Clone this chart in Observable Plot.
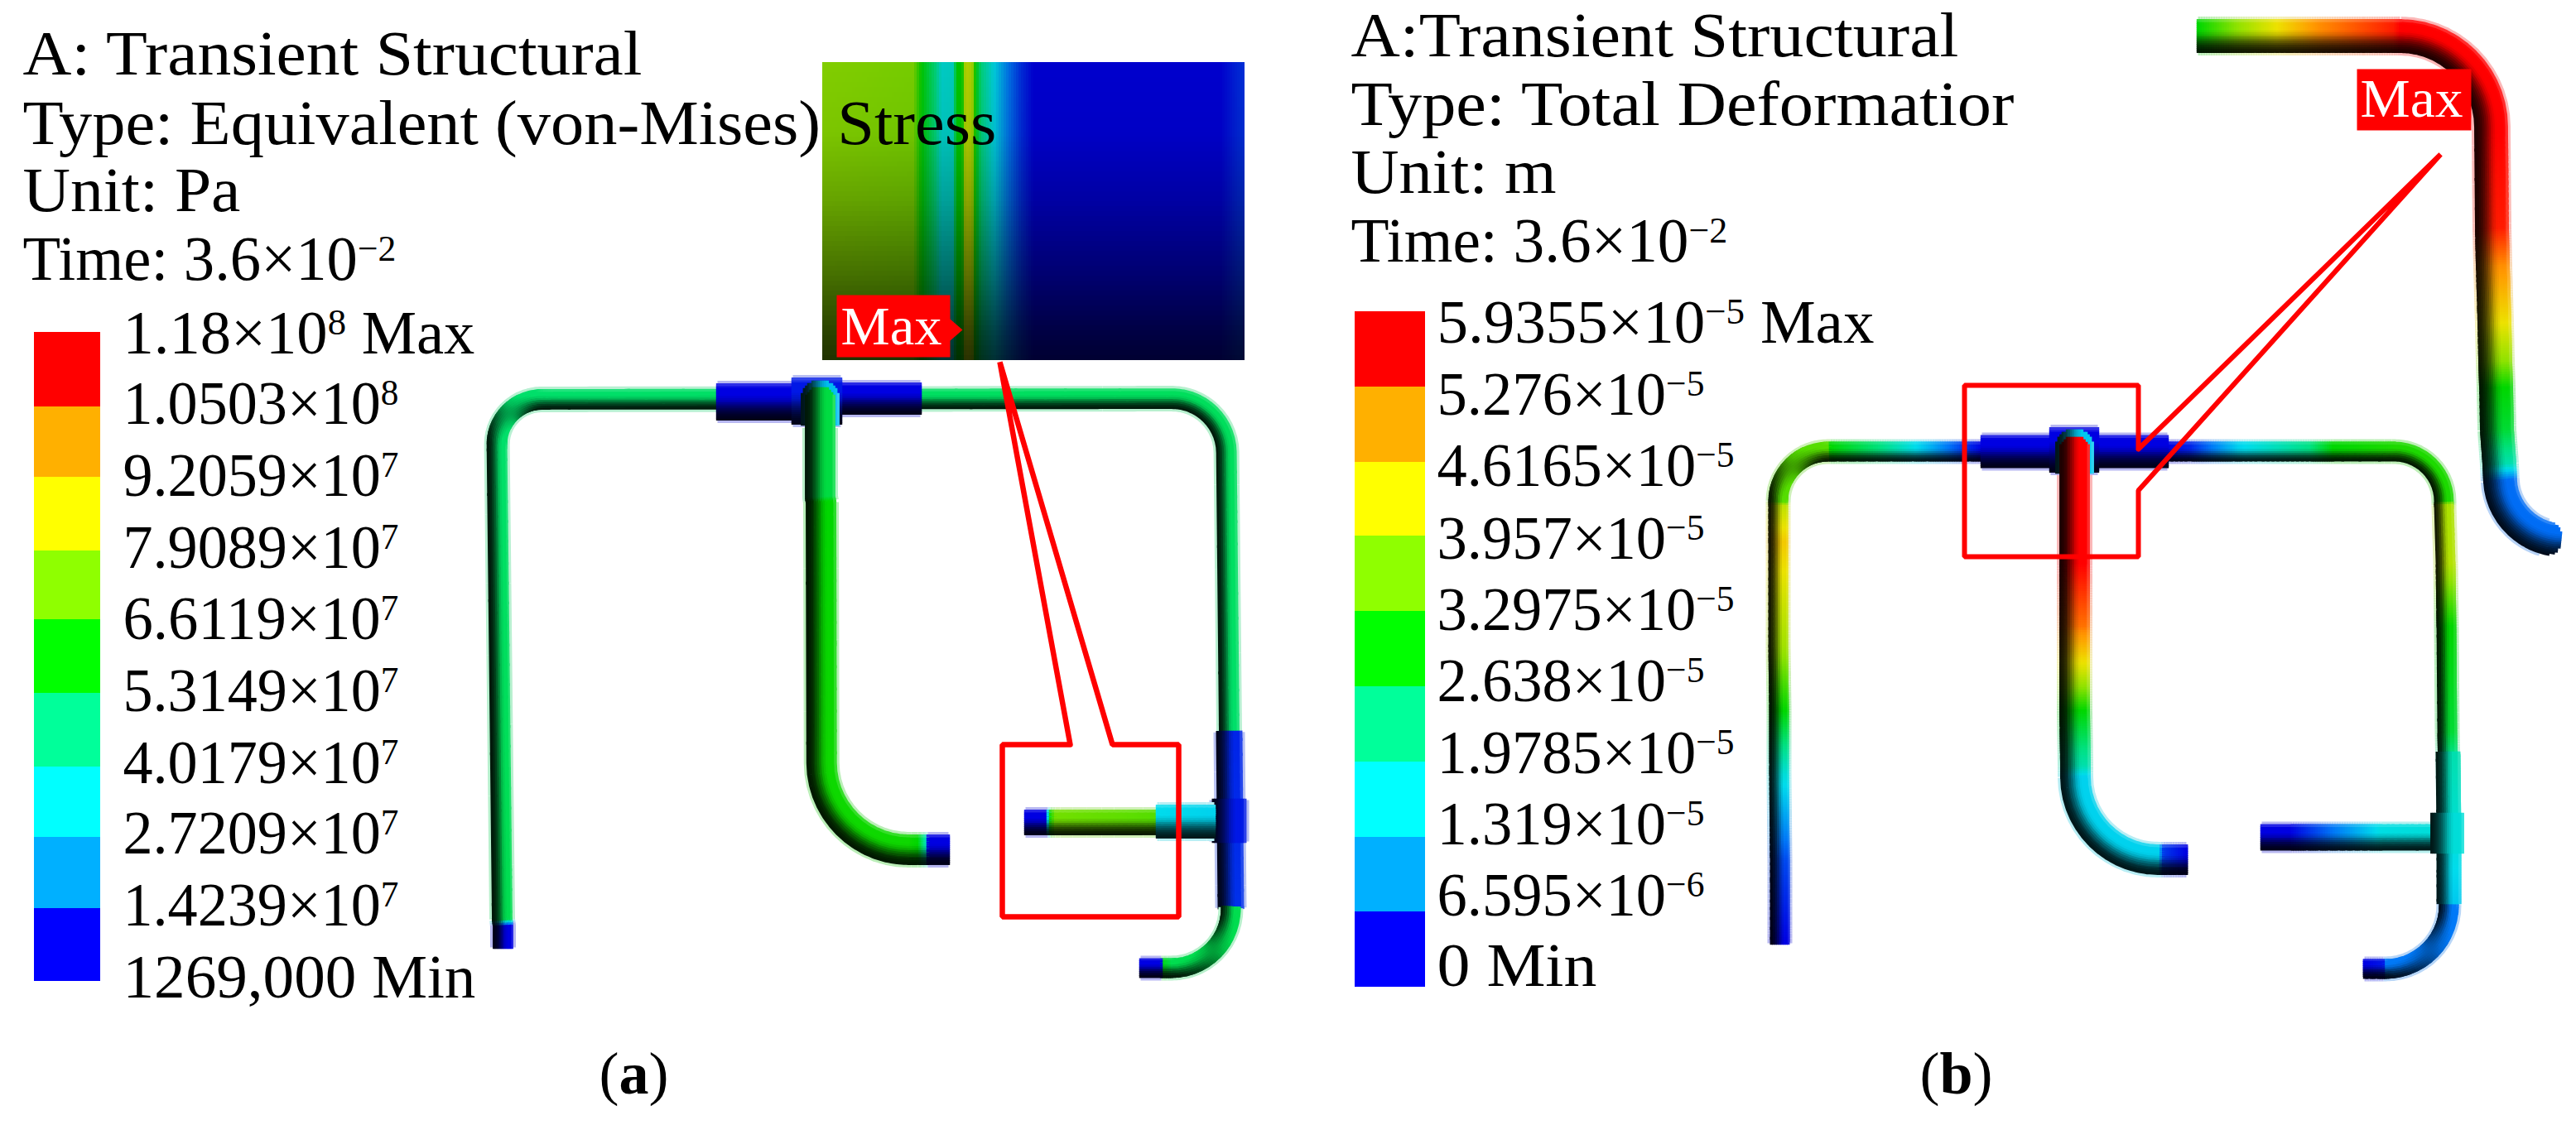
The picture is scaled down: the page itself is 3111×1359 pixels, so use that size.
<!DOCTYPE html>
<html><head><meta charset="utf-8">
<script src="https://cdn.jsdelivr.net/npm/d3@7"></script>
<script src="https://cdn.jsdelivr.net/npm/@observablehq/plot@0.6"></script>
<style>html,body{margin:0;padding:0;background:#fff;overflow:hidden}svg{display:block}</style>
</head><body><div id="chart"></div>
<script>
// ---------- text ----------
const headerA = ["A: Transient Structural","Type: Equivalent (von-Mises) Stress","Unit: Pa","Time: 3.6×10^−2"];
const headerAy = [89,173,254,337];
const headerAend = [775,1203,290,478];
const headerB = ["A:Transient Structural","Type: Total Deformatior","Unit: m","Time: 3.6×10^−2"];
const headerBy = [67,150,232,315];
const headerBend = [2365,2432,1879,2086];
const labelsA = ["1.18×10^8 Max","1.0503×10^8","9.2059×10^7","7.9089×10^7","6.6119×10^7","5.3149×10^7","4.0179×10^7","2.7209×10^7","1.4239×10^7","1269,000 Min"];
const labelsAy = [426,511,598,685,771,858,945,1030,1117,1204];
const labelsAend = [573,481,481,481,481,481,481,481,481,574];
const labelsB = ["5.9355×10^−5 Max","5.276×10^−5","4.6165×10^−5","3.957×10^−5","3.2975×10^−5","2.638×10^−5","1.9785×10^−5","1.319×10^−5","6.595×10^−6","0 Min"];
const labelsBy = [413,500,586,674,760,846,933,1019,1105,1190];
const labelsBend = [2263,2058,2094,2058,2094,2058,2094,2058,2058,1928];
// ---------- legend bands ----------
const bandColors = ["#ff0000","#ffb000","#ffff00","#8fff00","#00ff00","#00ff9a","#00ffff","#00b0ff","#0000ff"];
const bandEdgesA = [401,491,576,665,748,837,926,1011,1097,1185];
const bandEdgesB = [376,467,558,647,738,829,920,1011,1101,1192];
// contour level (0 = blue ... 8 = red) to colour on the pipes
const levelRGB = [[0,0,205],[0,110,225],[0,200,215],[0,205,120],[0,195,0],[130,205,0],[215,205,0],[235,130,0],[240,0,0]];
// ---------- pipes: [x, y, corner radius, level] ----------
const pipesA = [
 {w:24,p:[[607,1144,0,0],[607,1118,0,0],[606,1110,0,3.4],[599,482,55,3.2],[1480,481,65,3.3],[1484,884,0,3.2]]},
 {w:44,p:[[866,485,0,0],[957,485,0,0]]},
 {w:38,p:[[1015,481,0,0],[1111,481,0,0]]},
 {w:56,p:[[957,484,0,.2],[1015,484,0,.2]]},
 {w:46,capStart:true,halo:false,p:[[990,458,0,1.7],[990,512,0,1.7]]},
 {w:31,p:[[1484,884,0,.3],[1486,1096,0,.4]]},
 {w:23,p:[[1486,1096,0,3.2],[1487,1169,75,3.4],[1404,1169,0,3.8],[1402,1169,0,0],[1377,1169,0,0]]},
 {w:41,p:[[1484,966,0,.2],[1484,1016,0,.2]]},
 {w:30,p:[[1238,993,0,0],[1262,993,0,0],[1268,993,0,4.2],[1274,993,0,4.8],[1395,993,0,4.6],[1398,993,0,2]]},
 {w:40,p:[[1397,992,0,2],[1466,992,0,1.9]]},
 {w:36,capStart:true,haloSkip:50,p:[[990,466,0,3.5],[990,600,0,3.5],[991,606,0,4],[992,1026,105,4.1],[1108,1026,0,4],[1118,1026,0,2.5],[1120,1026,0,0],[1145,1026,0,0]]}
];
const pipesB = [
 {w:23,p:[[2149,1139,0,0],[2149,1040,0,.6],[2148,935,0,2.2],[2148,858,0,4],[2147,780,0,5.2],[2147,654,0,6.3],[2147,610,0,5.5],[2147,545,60,4.6],[2210,545,0,4],[2272,545,0,3],[2330,545,0,1.6],[2370,545,0,.5],[2393,545,0,0],[2617,545,0,0],[2645,545,0,.3],[2703,545,0,1.9],[2789,545,0,3],[2817,545,0,4],[2951,545,60,4.2],[2951,610,0,5.3],[2953,680,0,5.4],[2954,756,0,4],[2955,884,0,3.6],[2956,935,0,2.4],[2957,1011,0,2.2],[2957,1088,0,1.8],[2958,1170,78,1],[2878,1170,0,.2],[2855,1170,0,0]]},
 {w:29,halo:false,p:[[2956,909,0,2.6],[2957,1011,0,2.2],[2957,1090,0,1.8]]},
 {w:39,p:[[2393,545,0,0],[2617,545,0,0]]},
 {w:54,p:[[2476,543,0,0],[2533,543,0,0]]},
 {w:46,capStart:true,halo:false,p:[[2505,517,0,1.8],[2505,570,0,1.8]]},
 {w:36,capStart:true,haloSkip:46,p:[[2505,526,0,8],[2505,680,0,8],[2505,756,0,7.2],[2505,807,0,5.8],[2505,858,0,4],[2506,925,0,2.6],[2506,1038,100,1.9],[2612,1038,0,.5],[2640,1038,0,0]]},
 {w:31,p:[[2731,1011,0,0],[2765,1011,0,0],[2818,1011,0,1],[2875,1011,0,2.1],[2945,1011,0,2.2]]},
 {w:40,halo:false,p:[[2955,983,0,2.2],[2955,1029,0,2.2]]},
 {w:40,capEnd:true,p:[[2654,43,0,4],[2729,43,0,5.6],[2800,43,0,7],[2890,43,0,7.8],[3008,43,110,8],[3008,160,0,8],[3009,275,0,7.8],[3010,321,0,7],[3012,390,0,6],[3013,436,0,5],[3014,468,0,4],[3015,519,0,3.6],[3018,560,0,2.6],[3022,652,76,.9],[3094,652,0,0]]}
];
// ---------- stress inset ----------
const insetX = [993,1103,1113,1130,1137,1151,1155,1162,1166,1174,1178,1185,1199,1218,1233,1248,1474,1493,1501];
const insetLevel = [5,4.9,4,3,2.2,2.3,4,4,5.6,5.4,4,3,2.1,1,.4,0,0,.3,.4];
const insetRowY = [75,160,240,330,400,432];
const insetRowBright = [1,.96,.8,.55,.33,.25];
// ---------- callouts ----------
const calloutAx = [1292,1210,1210,1423,1423,1343,1207,1292];
const calloutAy = [899,899,1107,1107,899,899,437,899];
const calloutBx = [2582,2582,2372,2372,2582,2582,2947,2582];
const calloutBy = [542,465,465,672,672,592,186,542];
const maxTagAx = [1010,1147,1147,1162,1147,1147,1010];
const maxTagAy = [356,356,385,398,411,431,431];
const maxTagBx = [2846,2984,2984,2846];
const maxTagBy = [83,83,157,157];

// ---------- helpers ----------
const lerp=(a,b,t)=>a+(b-a)*t;
function rgbOf(l){const i=Math.max(0,Math.min(7,Math.floor(l))),t=Math.max(0,Math.min(1,l-i));return levelRGB[i].map((c,k)=>lerp(c,levelRGB[i+1][k],t));}
function css(c){return `rgb(${c.map(v=>Math.round(Math.max(0,Math.min(255,v)))).join(",")})`;}
function toWhite(c,t){return c.map(v=>lerp(v,255,t));}
function shade(c,e){
  const b = e<.1 ? lerp(.12,.92,Math.pow((e+1)/1.1,1.8)) : lerp(.92,1.1,Math.min(1,(e-.1)/.3));
  let o=c.map(v=>v*b);
  if(e>.8) o=toWhite(o,(e-.8)/.2*.25);
  return o;
}
function expand(pts){
  const out=[];
  pts.forEach((q,i)=>{
    const [x,y,r,l]=q;
    if(r>0&&i>0&&i<pts.length-1){
      const a=pts[i-1],b=pts[i+1];
      const d1=Math.hypot(x-a[0],y-a[1]),d2=Math.hypot(b[0]-x,b[1]-y);
      const u1=[(x-a[0])/d1,(y-a[1])/d1],u2=[(b[0]-x)/d2,(b[1]-y)/d2];
      const d=Math.min(r,d1,d2);
      const A=[x-u1[0]*d,y-u1[1]*d],B=[x+u2[0]*d,y+u2[1]*d];
      const C1=[A[0]+u1[0]*d*.55,A[1]+u1[1]*d*.55],C2=[B[0]-u2[0]*d*.55,B[1]-u2[1]*d*.55];
      for(let k=0;k<=14;k++){const t=k/14,s=1-t;
        out.push([s*s*s*A[0]+3*s*s*t*C1[0]+3*s*t*t*C2[0]+t*t*t*B[0],s*s*s*A[1]+3*s*s*t*C1[1]+3*s*t*t*C2[1]+t*t*t*B[1],l]);}
    } else out.push([x,y,l]);
  });
  const dense=[];
  for(let i=0;i<out.length-1;i++){
    const a=out[i],b=out[i+1],n=Math.max(1,Math.ceil(Math.hypot(b[0]-a[0],b[1]-a[1])/3));
    for(let k=0;k<n;k++){const t=k/n;dense.push([lerp(a[0],b[0],t),lerp(a[1],b[1],t),lerp(a[2],b[2],t)]);}
  }
  dense.push(out[out.length-1]);
  return dense;
}
function pipeMarks(pipe){
  const d=expand(pipe.p),N=Math.max(8,Math.round(pipe.w/2.5)),rows=[],halo=[];
  const along=[0];
  for(let i=1;i<d.length;i++) along.push(along[i-1]+Math.hypot(d[i][0]-d[i-1][0],d[i][1]-d[i-1][1]));
  const total=along[along.length-1],R=pipe.w/2;
  d.forEach((q,i)=>{
    const a=d[Math.max(0,i-4)],b=d[Math.min(d.length-1,i+4)];
    let tx=b[0]-a[0],ty=b[1]-a[1];const m=Math.hypot(tx,ty)||1;tx/=m;ty/=m;
    // normal on the path's left side, and how far it faces the light (upper right)
    const nx=ty,ny=-tx,f=Math.max(-1,Math.min(1,(nx-ny)));
    const base=rgbOf(q[2]);
    const haloStart=pipe.haloSkip||(pipe.capStart?R:0);
    if(pipe.halo!==false&&along[i]>=haloStart&&!(pipe.capEnd&&total-along[i]<R)) halo.push({x:q[0],y:q[1],k:0,c:css(toWhite(base,.72))});
    for(let j=0;j<N;j++){
      const s=(j+.5)/N-.5;
      // rounded pipe ends: the outer stripes start later
      const inset=R*(1-Math.sqrt(Math.max(0,1-4*s*s)));
      if(pipe.capStart&&along[i]<inset) continue;
      if(pipe.capEnd&&total-along[i]<inset) continue;
      rows.push({x:q[0]+nx*s*pipe.w,y:q[1]+ny*s*pipe.w,k:j,c:css(shade(base,2*s*f))});
    }
  });
  const common={x:"x",y:"y",z:"k",stroke:"c"};
  return [
    ...(halo.length?[Plot.line(halo,{...common,strokeLinecap:"butt",strokeWidth:pipe.w+7})]:[]),
    Plot.line(rows,{...common,strokeLinecap:"square",strokeWidth:pipe.w/N+.9})
  ];
}
function interp(xs,ys,x){const i=Math.max(0,Math.min(xs.length-2,d3.bisectRight(xs,x)-1));return lerp(ys[i],ys[i+1],(x-xs[i])/(xs[i+1]-xs[i]));}
const insetCells=[];
for(let x=insetX[0];x<insetX[insetX.length-1];x+=3){
  for(let y=insetRowY[0];y<insetRowY[insetRowY.length-1];y+=6){
    const c=rgbOf(interp(insetX,insetLevel,x+1.5)).map(v=>v*interp(insetRowY,insetRowBright,y+3));
    insetCells.push({x1:x,x2:x+3,y1:y,y2:y+6,c:css(c)});
  }
}
const bands=(edges,x1,x2)=>bandColors.map((c,i)=>({x1,x2,y1:edges[i],y2:edges[i+1],c}));
const textRows=(ts,ys,x)=>ts.map((t,i)=>({t,x,y:ys[i]}));
const txt=(rows,fs,extra={})=>Plot.text(rows,{x:"x",y:"y",text:"t",textAnchor:"start",lineAnchor:"bottom",fontSize:fs,fontFamily:"Liberation Serif",fill:"black",...extra});
const poly=(xs,ys)=>xs.map((x,i)=>({x,y:ys[i]}));

const fits=[[1015,1137],[2850,2974],
  ...headerA.map((t,i)=>[27,headerAend[i]]),...headerB.map((t,i)=>[1631,headerBend[i]]),
  ...labelsA.map((t,i)=>[148,labelsAend[i]]),...labelsB.map((t,i)=>[1735,labelsBend[i]]),null,null];

const svg=Plot.plot({
  width:3111,height:1359,margin:0,
  style:{background:"#fff",maxWidth:"none"},
  x:{domain:[0,3111],range:[0,3111],axis:null},
  y:{domain:[0,1359],range:[0,1359],axis:null},
  color:{type:"identity"},
  marks:[
    ...pipesA.flatMap(pipeMarks),
    ...pipesB.flatMap(pipeMarks),
    Plot.rect(insetCells,{x1:"x1",x2:"x2",y1:"y1",y2:"y2",fill:"c",shapeRendering:"crispEdges"}),
    Plot.rect(bands(bandEdgesA,41,121),{x1:"x1",x2:"x2",y1:"y1",y2:"y2",fill:"c"}),
    Plot.rect(bands(bandEdgesB,1636,1721),{x1:"x1",x2:"x2",y1:"y1",y2:"y2",fill:"c"}),
    Plot.line(poly(calloutAx,calloutAy),{x:"x",y:"y",stroke:"#f00",strokeWidth:6.5,strokeLinejoin:"miter"}),
    Plot.line(poly(calloutBx,calloutBy),{x:"x",y:"y",stroke:"#f00",strokeWidth:6,strokeLinejoin:"miter"}),
    Plot.line(poly(maxTagAx,maxTagAy),{x:"x",y:"y",fill:"#f00",stroke:"none"}),
    Plot.line(poly(maxTagBx,maxTagBy),{x:"x",y:"y",fill:"#f00",stroke:"none"}),
    txt(textRows(["Max"],[415],1015),66,{fill:"white"}),
    txt(textRows(["Max"],[140],2850),66,{fill:"white"}),
    txt(textRows(headerA,headerAy,27),77),
    txt(textRows(headerB,headerBy,1631),77),
    txt(textRows(labelsA,labelsAy,148),75),
    txt(textRows(labelsB,labelsBy,1735),75),
    txt(textRows(["(a)"],[1320],723),72),
    txt(textRows(["(b)"],[1320],2318),72)
  ]
});
document.getElementById("chart").append(svg);
// exponents and the bold panel letters as tspans of the same text, widths fitted
d3.select(svg).selectAll("text").each(function(_,i){
  const el=d3.select(this),s=el.text();
  const sup=s.match(/^(.*)\^([−\d]+)(.*)$/),cap=s.match(/^\((a|b)\)$/);
  if(sup){
    el.text(sup[1]);
    el.append("tspan").attr("font-size",45).attr("dy",-23).text(sup[2]);
    if(sup[3]) el.append("tspan").attr("dy",23).text(sup[3]);
  } else if(cap){
    el.text("(");
    el.append("tspan").attr("font-weight","bold").text(cap[1]);
    el.append("tspan").text(")");
  }
  const fit=fits[i];
  if(fit){
    const k=(fit[1]-fit[0])/this.getComputedTextLength();
    el.attr("transform",(el.attr("transform")||"")+` scale(${k},1)`);
  }
});
</script></body></html>
